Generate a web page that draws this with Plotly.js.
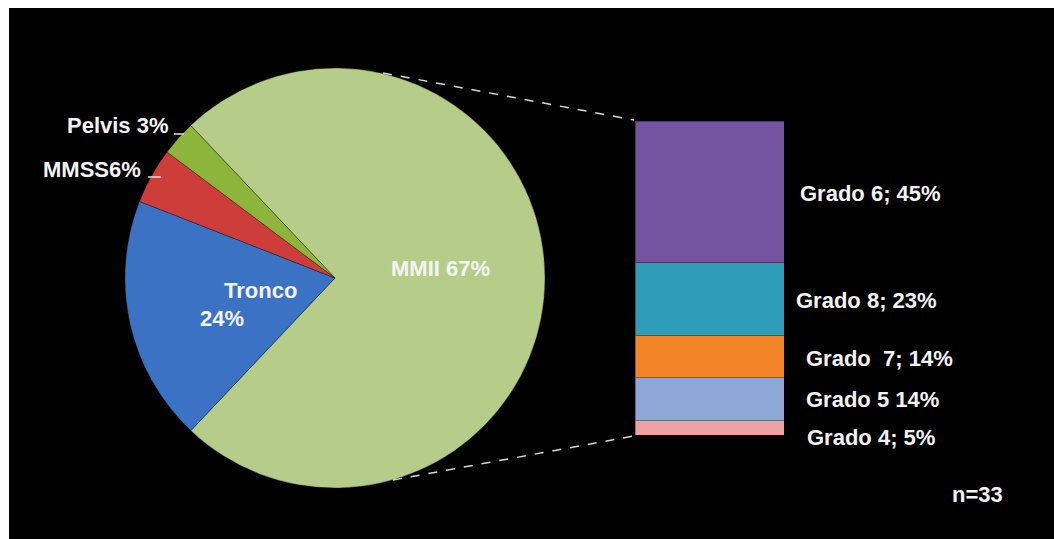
<!DOCTYPE html>
<html>
<head>
<meta charset="utf-8">
<script src="https://cdn.plot.ly/plotly-3.0.1.min.js"></script>
<style>html,body{margin:0;padding:0;background:#fff;}#chart{width:1054px;height:539px;}</style>
</head>
<body>
<div id="chart"></div>
<script>
var pieLabels = ["MMII", "Tronco", "MMSS", "Pelvis"];
var pieValues = [74.1, 18.9, 4.3, 2.7];
var pieTexts = ["MMII 67%", "Tronco", "MMSS6%", "Pelvis 3%"];
var pieColors = ["#b5cd88", "#3b72c4", "#cd3e3a", "#8db53b"];

// Bar of pie (stacked, bottom to top)
var barLabels = ["Grado 4", "Grado 5", "Grado 7", "Grado 8", "Grado 6"];
var barValues = [4.5, 13.8, 13.3, 23.2, 45.2];
var barTexts = ["Grado 4; 5%", "Grado 5 14%", "Grado  7; 14%", "Grado 8; 23%", "Grado 6; 45%"];
var barColors = ["#eea3a3", "#8ea7d7", "#f28527", "#2f9db8", "#7453a1"];

var W = 1054, H = 539;
function px(x){ return x / W; }
function py(y){ return 1 - y / H; }

var traces = [{
  type: "pie",
  labels: pieLabels,
  values: pieValues,
  sort: false,
  direction: "clockwise",
  rotation: -43.4,
  textinfo: "none",
  hoverinfo: "label+percent",
  marker: {colors: pieColors, line: {color: "rgba(0,0,0,0.3)", width: 1}},
  domain: {x: [px(125), px(545)], y: [py(488), py(68)]},
  showlegend: false
}];

barLabels.forEach(function(lab, i){
  traces.push({
    type: "bar",
    x: ["g"],
    y: [barValues[i]],
    name: lab,
    width: 1,
    marker: {color: barColors[i], line: {color: "rgba(0,0,0,0.35)", width: 1}},
    hoverinfo: "name+y",
    showlegend: false,
    xaxis: "x", yaxis: "y"
  });
});

var txtFont = {family: "Liberation Sans, Arial, sans-serif", size: 22, color: "#f4f4f4", weight: "bold"};
function ann(text, x, y){
  return {text: text, x: px(x), y: py(y), xref: "paper", yref: "paper",
          xanchor: "center", yanchor: "middle", showarrow: false, font: txtFont};
}

var annotations = [
  ann(pieTexts[3], 118, 126),
  ann(pieTexts[2], 92, 169),
  ann(pieTexts[1], 260, 290),
  ann("24%", 222, 318),
  ann(pieTexts[0], 440, 268),
  ann(barTexts[4], 870, 193),
  ann(barTexts[3], 866, 300),
  ann(barTexts[2], 879, 358),
  ann(barTexts[1], 872, 399),
  ann(barTexts[0], 871, 437),
  ann("n=33", 977, 494)
];

var shapes = [
  {type: "rect", xref: "paper", yref: "paper", x0: px(9), x1: 1, y0: 0, y1: py(8),
   fillcolor: "#000", line: {width: 0}, layer: "below"},
  {type: "line", xref: "paper", yref: "paper", x0: px(383), y0: py(73), x1: px(634), y1: py(120),
   line: {color: "#d8d8d8", width: 1.5, dash: "dash"}},
  {type: "line", xref: "paper", yref: "paper", x0: px(393), y0: py(480), x1: px(634), y1: py(436),
   line: {color: "#d8d8d8", width: 1.5, dash: "dash"}},
  {type: "line", xref: "paper", yref: "paper", x0: px(174), y0: py(134), x1: px(184), y1: py(134),
   line: {color: "#e0e0e0", width: 1.5}},
  {type: "line", xref: "paper", yref: "paper", x0: px(148), y0: py(177), x1: px(161), y1: py(177),
   line: {color: "#e0e0e0", width: 1.5}}
];

var sum = barValues.reduce(function(a,b){return a+b;}, 0);
var layout = {
  width: W, height: H,
  margin: {l: 0, r: 0, t: 0, b: 0},
  paper_bgcolor: "#ffffff",
  plot_bgcolor: "rgba(0,0,0,0)",
  barmode: "stack",
  xaxis: {domain: [px(635), px(784)], range: [-0.5, 0.5], visible: false, fixedrange: true},
  yaxis: {domain: [py(435), py(121)], range: [0, sum], visible: false, fixedrange: true},
  shapes: shapes,
  annotations: annotations,
  showlegend: false
};

Plotly.newPlot("chart", traces, layout, {displayModeBar: false, staticPlot: true});
</script>
</body>
</html>
